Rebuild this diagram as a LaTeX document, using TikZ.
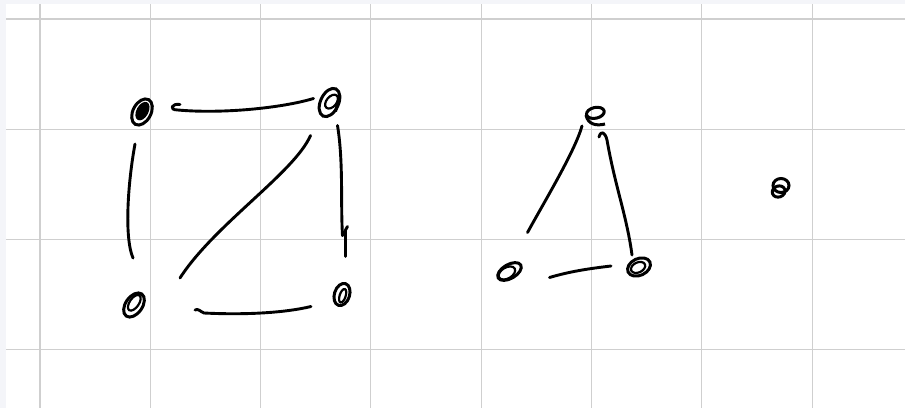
\documentclass[tikz,border=0pt]{standalone}
\usetikzlibrary{calc}
\definecolor{gridgray}{HTML}{CFCFCF}
\definecolor{stripgray}{HTML}{F4F5F9}
\begin{document}
\begin{tikzpicture}[x=1pt,y=-1pt,
  ink/.style={line width=2.9pt, line cap=round, line join=round, black},
  vpt/.style={circle, inner sep=0pt, minimum size=1pt},
  ring/.style={line width=3pt, black},
  scrib/.style={line width=2.2pt, black},
  gridline/.style={draw=gridgray, line width=1.1pt}]
\useasboundingbox (0,0) rectangle (905,408);
\fill[white] (0,0) rectangle (905,408);
\fill[stripgray] (0,0) rectangle (905,4);
\fill[stripgray] (0,0) rectangle (6,408);
\foreach \x in {40,150.3,260.6,370.6,481.2,591.5,701.8,812.1} \draw[gridline] (\x,4) -- (\x,408);
\foreach \y in {19,129.3,239.6,349.9} \draw[gridline] (6,\y) -- (905,\y);

% vertices (named points)
\node[vpt] (A) at (142,112) {};
\node[vpt] (B) at (329.5,102.5) {};
\node[vpt] (C) at (134,305) {};
\node[vpt] (D) at (342,294.5) {};
\node[vpt] (E) at (595,116) {};
\node[vpt] (F) at (509.5,271.5) {};
\node[vpt] (G) at (639,267) {};
\node[vpt] (H) at (779.5,188) {};

% vertex marks
\draw[ring, rotate around={62:(A)}] (A) ellipse (14pt and 9pt);
\fill[rotate around={62:(A)}] ($(A)+(1,0)$) ellipse (10pt and 6pt);
\draw[ring, rotate around={65:(B)}] (B) ellipse (15pt and 9pt);
\draw[scrib, rotate around={50:(B)}] ($(B)+(2,1)$) ellipse (8pt and 5pt);
\draw[ring] ($(B)+(10,-7)$) -- ($(B)+(6,9)$);
\draw[ring, rotate around={55:(C)}] (C) ellipse (13.5pt and 8.4pt);
\draw[scrib, rotate around={55:(C)}] ($(C)+(2,-1)$) ellipse (9pt and 4.6pt);
\draw[ring, rotate around={72:(D)}] (D) ellipse (11.4pt and 7.6pt);
\draw[scrib, rotate around={72:(D)}] ($(D)+(-1,1)$) ellipse (7pt and 3pt);
\draw[ring, rotate around={12:(E)}] ($(E)+(1,-3)$) ellipse (9pt and 5.4pt);
\draw[ring] ($(E)+(-9,-1)$) .. controls ($(E)+(-7,9)$) and ($(E)+(2,10)$) .. ($(E)+(10,8)$);
\draw[ring, rotate around={30:(F)}] (F) ellipse (13pt and 7pt);
\draw[scrib, rotate around={30:(F)}] ($(F)+(-3,0)$) ellipse (9pt and 5.5pt);
\draw[ring, rotate around={25:(G)}] (G) ellipse (12pt and 8.4pt);
\draw[scrib, rotate around={25:(G)}] ($(G)+(-1,0)$) ellipse (7.5pt and 5pt);
\draw[ring] ($(H)+(1.5,-2.5)$) ellipse (8pt and 7pt);
\draw[ring, rotate around={20:(H)}] ($(H)+(-2,3)$) ellipse (6.5pt and 5.5pt);

% edges of the square graph
\draw[ink] ($(A)+(38,-7.5)$) .. controls ($(A)+(30,-9)$) and ($(A)+(26,-2)$) .. ($(A)+(36,-2)$)
  .. controls ($(A)+(80,2)$) and ($(A)+(140,-4)$) .. ($(B)+(-16,-4)$);
\draw[ink] ($(A)+(-7,32)$) .. controls ($(A)+(-14,70)$) and ($(A)+(-18,125)$) .. ($(C)+(-1,-47)$);
\draw[ink] ($(B)+(-19,33)$) .. controls ($(B)+(-35,70)$) and ($(C)+(80,-80)$) .. ($(C)+(46,-27)$);
\draw[ink] ($(B)+(8,23)$) .. controls ($(B)+(14,60)$) and ($(B)+(11,100)$) .. ($(B)+(13,133)$);
\draw[ink] ($(B)+(13,133)$) -- ($(B)+(18,124)$);
\draw[ink] ($(B)+(16,128)$) -- ($(B)+(16,154)$);
\draw[ink] ($(C)+(61,5)$) .. controls ($(C)+(64,3)$) and ($(C)+(67,7)$) .. ($(C)+(70,8)$)
  .. controls ($(C)+(110,10)$) and ($(C)+(150,8)$) .. ($(D)+(-31,12)$);

% triangle
\draw[ink] ($(E)+(-13,10)$) .. controls ($(E)+(-20,35)$) and ($(F)+(35,-70)$) .. ($(F)+(18,-39)$);
\draw[ink] ($(E)+(4,21)$) .. controls ($(E)+(6,14)$) and ($(E)+(10,16)$) .. ($(E)+(12,24)$)
  .. controls ($(E)+(20,70)$) and ($(G)+(-12,-50)$) .. ($(G)+(-7,-12)$);
\draw[ink] ($(F)+(40,6)$) .. controls ($(F)+(60,0)$) and ($(F)+(80,-3)$) .. ($(G)+(-28,-1)$);
\end{tikzpicture}
\end{document}
